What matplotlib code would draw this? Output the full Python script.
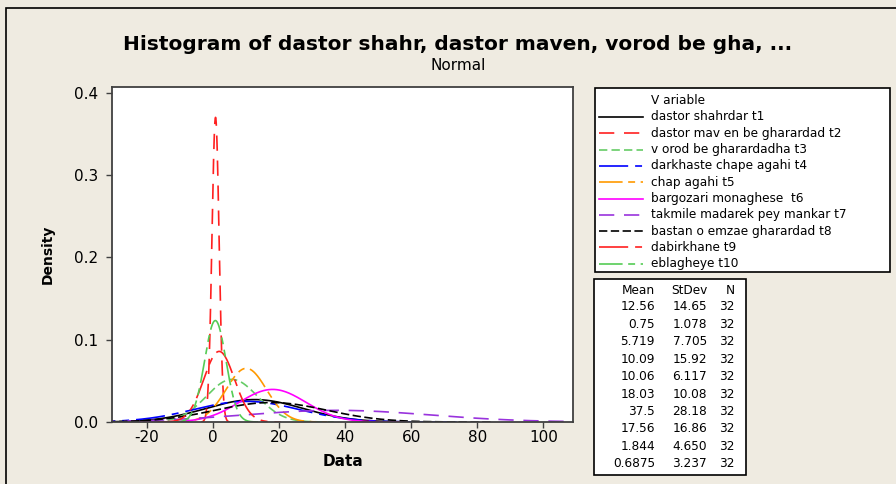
import numpy as np
import matplotlib
matplotlib.use("Agg")
import matplotlib.pyplot as plt
from matplotlib.lines import Line2D
from matplotlib.patches import Rectangle

plt.rcParams['lines.scale_dashes'] = False
plt.rcParams['axes.unicode_minus'] = False

names = ['dastor shahrdar t1', 'dastor mav en be gharardad t2', 'v orod be gharardadha t3',
         'darkhaste chape agahi t4', 'chap agahi t5', 'bargozari monaghese  t6',
         'takmile madarek pey mankar t7', 'bastan o emzae gharardad t8', 'dabirkhane t9',
         'eblagheye t10']
means = [12.56, 0.75, 5.719, 10.09, 10.06, 18.03, 37.5, 17.56, 1.844, 0.6875]
sds = [14.65, 1.078, 7.705, 15.92, 6.117, 10.08, 28.18, 16.86, 4.650, 3.237]
mean_labels = ['12.56', '0.75', '5.719', '10.09', '10.06', '18.03', '37.5', '17.56', '1.844', '0.6875']
sd_labels = ['14.65', '1.078', '7.705', '15.92', '6.117', '10.08', '28.18', '16.86', '4.650', '3.237']
ns = [32] * 10

colors = ['black', '#ff2020', '#66cc66', '#0000ff', '#ff9900', '#ff00ff', '#9933dd', 'black', '#ff2020', '#55cc55']
styles = ['-', (0, (11, 7)), (0, (6, 3)), (0, (21, 5, 5, 5)), (0, (17, 4, 5, 4, 5, 4)),
          '-', (0, (11, 7)), (0, (6, 2.5)), (0, (21, 5, 5, 5)), (0, (17, 4, 5, 4, 5, 4))]

bg = '#efebe1'
fig = plt.figure(figsize=(8.96, 4.84), dpi=100, facecolor=bg)
W, H = 896, 484

def fx(px):
    return px / W

def fy(py):
    return 1 - py / H

# outer frame
fig.patches.append(Rectangle((fx(6), fy(600)), fx(1000), 592 / H, transform=fig.transFigure,
                             fill=False, edgecolor='black', lw=1.2))

ax = fig.add_axes([fx(112), fy(422), fx(573 - 112), (422 - 87) / H])
ax.set_facecolor('white')

for m, s, c, ls in zip(means, sds, colors, styles):
    x = np.linspace(m - 4 * s, m + 4 * s, 400)
    y = np.exp(-0.5 * ((x - m) / s) ** 2) / (s * np.sqrt(2 * np.pi))
    ax.plot(x, y, color=c, linestyle=ls, lw=1.2)

ax.set_xlim(-30.6, 109)
ax.set_ylim(0, 0.407)
ax.set_xticks(np.arange(-20, 101, 20))
ax.set_yticks(np.arange(0, 0.41, 0.1))
ax.set_yticklabels(['%.1f' % v for v in np.arange(0, 0.41, 0.1)])
ax.tick_params(direction='out', length=4, width=1, labelsize=11, color='#404040', pad=2)
ax.tick_params(axis='y', pad=6)
for sp in ax.spines.values():
    sp.set_color('#404040')
    sp.set_linewidth(1.3)
ax.set_xlabel('Data', fontsize=11, fontweight='bold', labelpad=6)
ax.set_ylabel('Density', fontsize=10, fontweight='bold', labelpad=14)

fig.text(fx(458), fy(45), 'Histogram of dastor shahr, dastor maven, vorod be gha, ...',
         ha='center', va='center', fontsize=14.5, fontweight='bold')
fig.text(fx(458), fy(66), 'Normal', ha='center', va='center', fontsize=11)

# legend box
fig.patches.append(Rectangle((fx(595), fy(272)), fx(890 - 595), (272 - 88) / H,
                             transform=fig.transFigure, facecolor='white', edgecolor='black', lw=1.2))
fig.text(fx(651), fy(100), 'V ariable', ha='left', va='center', fontsize=8.7)
for i, (nm, c, ls) in enumerate(zip(names, colors, styles)):
    yy = fy(117 + i * 16.3)
    fig.lines.append(Line2D([fx(599), fx(643)], [yy, yy], transform=fig.transFigure,
                            color=c, linestyle=ls, lw=1.2))
    fig.text(fx(651), yy, nm, ha='left', va='center', fontsize=8.7)

# statistics table
fig.patches.append(Rectangle((fx(594), fy(475)), fx(746 - 594), (475 - 279) / H,
                             transform=fig.transFigure, facecolor='white', edgecolor='black', lw=1.2))
fig.text(fx(655), fy(290), 'Mean', ha='right', va='center', fontsize=8.7)
fig.text(fx(707), fy(290), 'StDev', ha='right', va='center', fontsize=8.7)
fig.text(fx(735), fy(290), 'N', ha='right', va='center', fontsize=8.7)
for i in range(len(means)):
    yy = fy(307 + i * 17.4)
    fig.text(fx(655), yy, mean_labels[i], ha='right', va='center', fontsize=8.7)
    fig.text(fx(707), yy, sd_labels[i], ha='right', va='center', fontsize=8.7)
    fig.text(fx(735), yy, str(ns[i]), ha='right', va='center', fontsize=8.7)

fig.savefig('out.png', dpi=100, facecolor=bg)
